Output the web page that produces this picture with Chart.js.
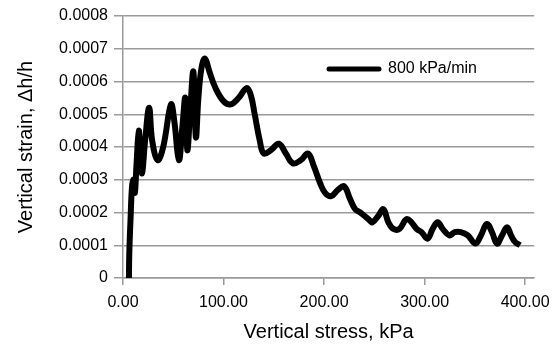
<!DOCTYPE html>
<html>
<head>
<meta charset="utf-8">
<script src="https://cdn.jsdelivr.net/npm/chart.js@4"></script>
<style>
  html, body { margin: 0; padding: 0; background: #fff; }
  #wrap { width: 558px; height: 344px; }
</style>
</head>
<body>
<div id="wrap"><canvas id="myChart" width="558" height="344"></canvas></div>
<script>
// valores
const stress = [5.9, 6.3, 7.5, 9, 10.5, 11.8, 13.5, 15.7, 17.5, 19, 22, 26, 29, 34.5, 40, 47.7, 51, 55.6, 59, 62, 64, 67, 70, 72.5, 75, 78, 81.5, 86, 92, 100, 107, 115, 123, 127, 131, 136, 140, 147, 155, 162, 169, 177, 184, 190, 196, 201, 207, 214, 220, 226, 231, 236, 240, 244, 248, 254, 259, 264, 269, 275, 282, 287, 292, 297, 303, 308, 313, 318, 324.5, 330, 336, 343, 350.6, 356, 362, 367, 372, 377, 382, 386, 390, 395];
const strain = [0, 0.00008, 0.00018, 0.00028, 0.0003, 0.00026, 0.00035, 0.00045, 0.00036, 0.00032, 0.00042, 0.00052, 0.00042, 0.00036, 0.0004, 0.00053, 0.00048, 0.00036, 0.00046, 0.00055, 0.00039, 0.00052, 0.00063, 0.00043, 0.00055, 0.00064, 0.00067, 0.00063, 0.00058, 0.00054, 0.00053, 0.00055, 0.00058, 0.00056, 0.0005, 0.00042, 0.00038, 0.00039, 0.00041, 0.00038, 0.00035, 0.00036, 0.00038, 0.00034, 0.00029, 0.00026, 0.00025, 0.00027, 0.00028, 0.00024, 0.00021, 0.0002, 0.00019, 0.00018, 0.00017, 0.00019, 0.00021, 0.00017, 0.00015, 0.00015, 0.00018, 0.00017, 0.00015, 0.00014, 0.00012, 0.00015, 0.00017, 0.00015, 0.00013, 0.00014, 0.00014, 0.00013, 0.000105, 0.00013, 0.000165, 0.00014, 0.000105, 0.00013, 0.000155, 0.00013, 0.00011, 0.0001];
const xTicks = [0, 100, 200, 300, 400];
const yTicks = [0, 0.0001, 0.0002, 0.0003, 0.0004, 0.0005, 0.0006, 0.0007, 0.0008];
const seriesName = '800 kPa/min';

const pontos = stress.map((x, i) => ({ x: x, y: strain[i] }));
const cinza = '#9a9a9a';
const fonte = 'Liberation Sans, Arial, sans-serif';

// legenda desenhada dentro da area do grafico
const legendaDentro = {
    id: 'legendaDentro',
    afterDraw(chart) {
        const ctx = chart.ctx;
        const ds = chart.data.datasets[0];
        ctx.save();
        ctx.strokeStyle = '#000';
        ctx.lineWidth = 5;
        ctx.lineCap = 'round';
        ctx.beginPath();
        ctx.moveTo(329, 69);
        ctx.lineTo(379, 69);
        ctx.stroke();
        ctx.fillStyle = '#000';
        ctx.font = '16px ' + fonte;
        ctx.textBaseline = 'middle';
        ctx.fillText(ds.label, 388, 69);
        ctx.restore();
    }
};

const grafico = document.getElementById('myChart');
new Chart(grafico, {
    type: 'line',
    data: {
        datasets: [{
            label: seriesName,
            data: pontos,
            borderColor: '#000',
            borderWidth: 6,
            pointRadius: 0,
            tension: 0.4,
            fill: false
        }]
    },
    options: {
        responsive: false,
        animation: false,
        layout: { padding: { top: 16, right: 18, bottom: 0, left: 14 } },
        plugins: {
            legend: { display: false },
            tooltip: { enabled: false }
        },
        scales: {
            x: {
                type: 'linear',
                min: 0,
                max: 409,
                afterBuildTicks: (s) => { s.ticks = xTicks.map(v => ({ value: v })); },
                afterFit: (s) => { s.height = 66; },
                ticks: {
                    color: '#000',
                    font: { family: fonte, size: 16 },
                    padding: 8,
                    maxRotation: 0,
                    callback: (v) => Number(v).toFixed(2)
                },
                grid: { drawOnChartArea: false, drawTicks: true, tickLength: 7, color: cinza, lineWidth: 1.5 },
                border: { color: cinza, width: 1.5 },
                title: {
                    display: true,
                    text: 'Vertical stress, kPa',
                    color: '#000',
                    font: { family: fonte, size: 20 },
                    padding: { top: 0, bottom: 0 }
                }
            },
            y: {
                min: 0,
                max: 0.0008,
                afterBuildTicks: (s) => { s.ticks = yTicks.map(v => ({ value: v })); },
                afterFit: (s) => { s.width = 109; },
                ticks: {
                    color: '#000',
                    font: { family: fonte, size: 16 },
                    padding: 6,
                    callback: (v) => v === 0 ? '0' : Number(v).toFixed(4)
                },
                grid: { color: cinza, lineWidth: 1.5, tickLength: 9 },
                border: { color: cinza, width: 1.5 },
                title: {
                    display: true,
                    text: 'Vertical strain, \u0394h/h',
                    color: '#000',
                    font: { family: fonte, size: 20 },
                    padding: { top: 0, bottom: 4 }
                }
            }
        }
    },
    plugins: [legendaDentro]
});
</script>
</body>
</html>
